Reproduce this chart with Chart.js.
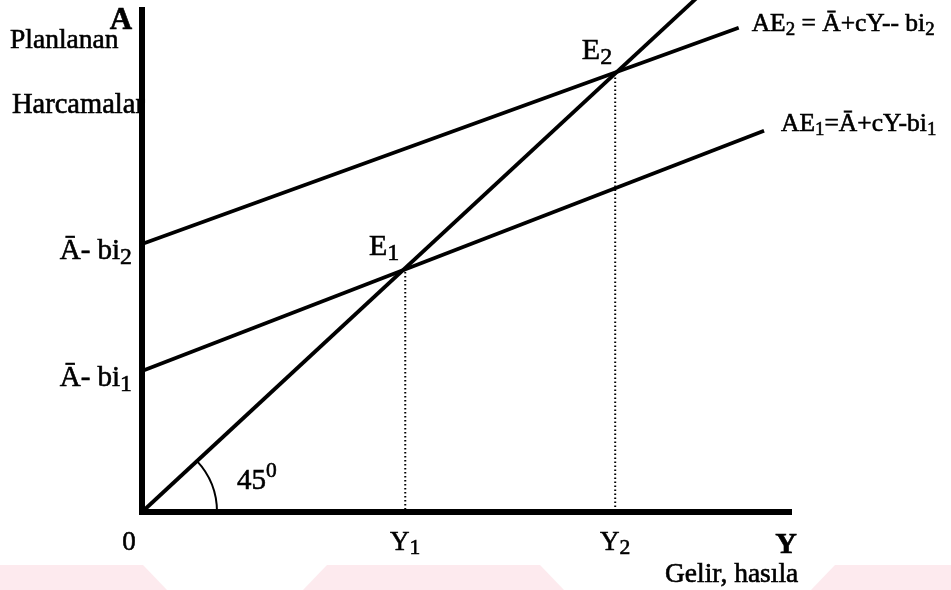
<!DOCTYPE html>
<html>
<head>
<meta charset="utf-8">
<script src="https://cdn.jsdelivr.net/npm/chart.js@4"></script>
<style>
  html, body { margin: 0; padding: 0; background: #fff; }
  #wrap { width: 951px; height: 590px; position: relative; }
</style>
</head>
<body>
<div id="wrap"><canvas id="keynes"></canvas></div>
<script>
// Lines (x = income Y, y = planned spending A)
const line45X = [0, 8.6];
const line45Y = [0, 8.6];
const ae1X = [0, 9.57];
const ae1Y = [2.34, 6.33];
const ae2X = [0, 9.18];
const ae2Y = [4.45, 8.04];
// equilibrium incomes Y1, Y2
const eqIncome = [4.05, 7.28];

// tick labels
const xTickVals = [0, eqIncome[0], eqIncome[1]];
const xTickText = ['0', 'Y_1', 'Y_2'];
const yTickVals = [ae1Y[0], ae2Y[0]];
const yTickText = ['Ā- bi_1', 'Ā- bi_2'];

const SERIF = '"Liberation Serif", "Times New Roman", serif';

function pts(xs, ys) {
    return xs.map((x, i) => ({ x: x, y: ys[i] }));
}

// draws text with _x subscripts and ^x superscripts
function rich(ctx, str, x, y, size, align, bold, subScale) {
    const segs = [];
    let i = 0;
    while (i < str.length) {
        const ch = str[i];
        if ((ch === '_' || ch === '^') && i + 1 < str.length) {
            segs.push({ t: str[i + 1], k: ch });
            i += 2;
        } else {
            let j = i;
            while (j < str.length && str[j] !== '_' && str[j] !== '^') j++;
            segs.push({ t: str.slice(i, j), k: '' });
            i = j;
        }
    }
    const w = bold ? 'bold ' : '';
    const ss = subScale || 0.74;
    let total = 0;
    segs.forEach(s => {
        const sz = s.k ? size * ss : size;
        ctx.font = w + sz + 'px ' + SERIF;
        s.w = ctx.measureText(s.t).width;
        s.sz = sz;
        total += s.w;
    });
    let cx = x;
    if (align === 'center') cx = x - total / 2;
    if (align === 'right') cx = x - total;
    ctx.textAlign = 'left';
    ctx.textBaseline = 'alphabetic';
    ctx.lineWidth = 0.6;
    segs.forEach(s => {
        ctx.font = w + s.sz + 'px ' + SERIF;
        let dy = 0;
        if (s.k === '_') dy = size * 0.16;
        if (s.k === '^') dy = -size * 0.42;
        ctx.fillText(s.t, cx, y + dy);
        ctx.strokeText(s.t, cx, y + dy);
        cx += s.w;
    });
}

const decor = {
    id: 'decor',
    beforeDraw(chart) {
        const c = chart.ctx;
        c.save();
        c.fillStyle = '#ffffff';
        c.fillRect(0, 0, chart.width, chart.height);
        // faint watermark strip at the bottom of the scan
        c.fillStyle = '#fdeaee';
        const shapes = [
            [[0, 565], [143, 565], [167, 590], [0, 590]],
            [[327, 565], [540, 565], [564, 590], [303, 590]],
            [[835, 565], [951, 565], [951, 590], [811, 590]]
        ];
        shapes.forEach(p => {
            c.beginPath();
            c.moveTo(p[0][0], p[0][1]);
            p.slice(1).forEach(q => c.lineTo(q[0], q[1]));
            c.closePath();
            c.fill();
        });
        c.restore();
    },
    afterDatasetsDraw(chart) {
        const c = chart.ctx;
        const xs = chart.scales.x, ys = chart.scales.y;
        const ox = xs.getPixelForValue(0), oy = ys.getPixelForValue(0);
        c.save();
        c.fillStyle = '#000';
        c.strokeStyle = '#000';

        // axes
        c.lineWidth = 6;
        c.beginPath();
        c.moveTo(ox, 7);
        c.lineTo(ox, oy + 3);
        c.moveTo(ox - 3, oy);
        c.lineTo(xs.right, oy);
        c.stroke();

        // 45 degree arc
        c.lineWidth = 2;
        c.beginPath();
        c.arc(ox, oy, 75, -Math.PI / 4 + 0.03, 0);
        c.stroke();
        rich(c, '45^0', ox + 95, oy - 23, 29, 'left');

        // axis names
        rich(c, 'A', ox - 21, 29, 31, 'center', true);
        rich(c, 'Planlanan', 10, 48, 27.5, 'left');
        rich(c, 'Harcamalar', 12, 113, 28.5, 'left');
        rich(c, 'Y', xs.right - 6, oy + 41, 30, 'center', true);
        rich(c, 'Gelir, hasıla', 665, oy + 70, 27.5, 'left');

        // tick labels
        xTickVals.forEach((v, k) => {
            const px = xs.getPixelForValue(v) + (v === 0 ? -13 : 0);
            rich(c, xTickText[k], px, oy + 38, 27, 'center', false, 0.8);
        });
        yTickVals.forEach((v, k) => {
            rich(c, yTickText[k], ox - 10, ys.getPixelForValue(v) + 15, 29, 'right', false, 0.82);
        });

        // equilibrium labels
        const e1x = xs.getPixelForValue(eqIncome[0]), e1y = ys.getPixelForValue(eqIncome[0]);
        const e2x = xs.getPixelForValue(eqIncome[1]), e2y = ys.getPixelForValue(eqIncome[1]);
        rich(c, 'E_1', e1x - 6, e1y - 13, 30, 'right', false, 0.8);
        rich(c, 'E_2', e2x - 3, e2y - 14, 30, 'right', false, 0.8);

        // curve labels at line ends
        const a2x = xs.getPixelForValue(ae2X[1]), a2y = ys.getPixelForValue(ae2Y[1]);
        const a1x = xs.getPixelForValue(ae1X[1]), a1y = ys.getPixelForValue(ae1Y[1]);
        rich(c, 'AE_2 = Ā+cY-- bi_2', a2x + 13, a2y + 3, 25.5, 'left');
        rich(c, 'AE_1=Ā+cY-bi_1', a1x + 17, a1y, 25.5, 'left');
        c.restore();
    }
};

const solid = { borderColor: '#000', borderWidth: 3.8, pointRadius: 0, showLine: true, fill: false, clip: false, tension: 0 };
const dotted = { borderColor: '#000', borderWidth: 2, borderDash: [1.5, 2.5], pointRadius: 0, showLine: true, clip: false };

new Chart(document.getElementById('keynes'), {
    type: 'scatter',
    data: {
        datasets: [
            Object.assign({ label: '45°', data: pts(line45X, line45Y) }, solid),
            Object.assign({ label: 'AE1', data: pts(ae1X, ae1Y) }, solid),
            Object.assign({ label: 'AE2', data: pts(ae2X, ae2Y) }, solid),
            Object.assign({ label: 'Y1', data: pts([eqIncome[0], eqIncome[0]], [eqIncome[0], 0]) }, dotted),
            Object.assign({ label: 'Y2', data: pts([eqIncome[1], eqIncome[1]], [eqIncome[1], 0]) }, dotted)
        ]
    },
    options: {
        responsive: true,
        maintainAspectRatio: false,
        animation: false,
        layout: { padding: { left: 142, right: 159, top: 0, bottom: 78 } },
        plugins: { legend: { display: false }, tooltip: { enabled: false } },
        scales: {
            x: { type: 'linear', display: false, min: 0, max: 10 },
            y: { type: 'linear', display: false, min: 0, max: 8.5 }
        }
    },
    plugins: [decor]
});
</script>
</body>
</html>
